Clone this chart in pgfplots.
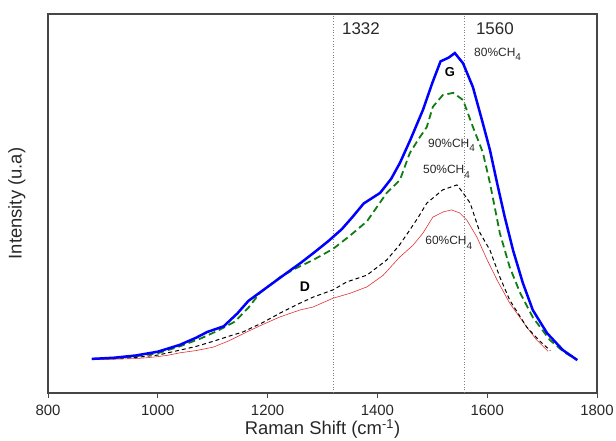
\documentclass[border=0pt]{standalone}
\usepackage{pgfplots}
\pgfplotsset{compat=1.18}
\usepackage{fontspec}
\setmainfont{Liberation Sans}

\definecolor{cblue}{RGB}{0,0,255}
\definecolor{cgreen}{RGB}{15,125,15}
\definecolor{cred}{RGB}{225,50,50}
\definecolor{frame}{RGB}{70,70,70}
\definecolor{txt}{RGB}{40,40,40}

% sample label with lowered subscript 4
\newcommand{\ch}[1]{#1\%CH\raisebox{-4.5pt}{\fontsize{10}{10}\selectfont 4}}

\begin{document}
\begin{tikzpicture}
\begin{axis}[
  name=ax,
  scale only axis,
  width=549bp, height=379bp,
  xmin=800, xmax=1800, ymin=0, ymax=100,
  xtick={800,1000,...,1800},
  ytick=\empty,
  xtick pos=bottom,
  tick align=outside,
  major tick length=5bp,
  minor tick num=0,
  axis line style={frame, line width=1.1pt},
  every tick/.style={frame, line width=1pt},
  /pgf/number format/assume math mode=true,
  /pgf/number format/set thousands separator={},
  xticklabel style={font=\fontsize{15}{15}\selectfont, text=txt, anchor=base, yshift=-17bp, inner sep=1pt},
  xlabel={Raman Shift (cm\textsuperscript{-1})},
  xlabel style={font=\fontsize{18.5}{18.5}\selectfont, text=txt, at={(axis description cs:0.5,0)}, anchor=base, yshift=-41.5bp, inner sep=1pt},
  ylabel={Intensity (u.a)},
  ylabel style={font=\fontsize{18.5}{18.5}\selectfont, text=txt, at={(axis description cs:-0.0346,0.5)}, anchor=south},
  clip=false,
]
% reference lines
\addplot[gray, dotted, line width=0.8pt] coordinates {(1320,0) (1320,100)};
\addplot[gray, dotted, line width=0.8pt] coordinates {(1558,0) (1558,100)};

% 60% CH4
\addplot[cred, line width=0.6pt] coordinates {
(880,8.8) (900,8.9) (920,8.9) (940,9.0) (960,9.1) (980,9.3) (1000,9.6) (1020,10.0)
(1040,10.6) (1070,11.2) (1101,12.1) (1130,13.8) (1162,16.1) (1190,18.0) (1223,20.1)
(1259,21.9) (1283,22.7) (1319,25.0) (1350,26.3) (1381,28.0) (1410,31.0) (1441,35.9)
(1465,39.0) (1483,42.2) (1501,46.4) (1520,47.8) (1535,48.3) (1550,47.5) (1563,45.6)
(1581,41.2) (1600,35.1) (1618,29.8) (1641,23.7) (1672,17.4) (1690,14.0) (1711,11.0)
};
% 50% CH4
\addplot[black, line width=1pt, dash pattern=on 4pt off 3pt] coordinates {
(880,9.0) (920,9.1) (960,9.4) (1000,10.0) (1040,11.3) (1070,12.3) (1100,13.6)
(1130,15.0) (1155,16.1) (1190,18.5) (1223,21.1) (1259,23.7) (1283,25.3) (1319,27.2)
(1344,29.3) (1381,31.1) (1417,35.1) (1440,39.0) (1459,43.0) (1475,46.5) (1490,50.1)
(1519,53.6) (1545,54.9) (1556,52.8) (1569,50.1) (1587,42.2) (1605,37.7) (1623,30.6)
(1641,24.5) (1672,17.4) (1695,13.8) (1715,11.2)
};
% 90% CH4
\addplot[cgreen, line width=1.8pt, dash pattern=on 7pt off 4pt] coordinates {
(880,9.0) (920,9.2) (960,9.7) (1000,10.5) (1040,12.3) (1080,14.5) (1110,16.5)
(1140,18.8) (1165,22.5) (1186,26.4) (1223,30.6) (1250,32.8) (1283,35.1) (1319,38.0)
(1350,41.5) (1381,45.3) (1417,52.8) (1441,56.2) (1459,63.3) (1475,67.0) (1490,70.2)
(1501,75.5) (1519,78.6) (1538,79.2) (1556,77.3) (1574,70.2) (1592,63.5) (1605,55.4)
(1623,42.2) (1641,33.2) (1660,26.4) (1683,20.0) (1714,14.0) (1740,10.8) (1764,8.7)
};
% 80% CH4
\addplot[cblue, line width=2.5pt] coordinates {
(880,9.0) (920,9.3) (960,9.9) (1000,10.9) (1040,12.7) (1070,14.6) (1090,16.1)
(1120,17.6) (1145,21.0) (1165,24.3) (1200,28.0) (1235,31.7) (1260,34.3) (1285,37.1)
(1310,40.0) (1335,43.2) (1355,46.5) (1375,50.0) (1405,52.8) (1425,56.5) (1441,60.7)
(1460,66.8) (1483,74.7) (1500,81.8) (1515,87.5) (1530,88.5) (1541,89.7) (1556,87.0)
(1574,80.7) (1592,71.2) (1605,64.1) (1618,55.4) (1632,46.4) (1647,37.7) (1665,29.0)
(1683,21.9) (1709,15.8) (1738,11.3) (1764,8.7)
};

% annotations
\node[font=\fontsize{17}{17}\selectfont, text=txt] at (axis cs:1370,96) {1332};
\node[font=\fontsize{17}{17}\selectfont, text=txt] at (axis cs:1614,96) {1560};
\node[font=\fontsize{12}{12}\selectfont, text=txt, anchor=west, inner sep=0pt] at (axis cs:1576,89.4) {\ch{80}};
\node[font=\fontsize{12}{12}\selectfont, text=txt, anchor=west, inner sep=0pt] at (axis cs:1492,65.4) {\ch{90}};
\node[font=\fontsize{12}{12}\selectfont, text=txt, anchor=west, inner sep=0pt] at (axis cs:1483,58.3) {\ch{50}};
\node[font=\fontsize{12}{12}\selectfont, text=txt, anchor=west, inner sep=0pt] at (axis cs:1487,39.6) {\ch{60}};
\node[font=\bfseries\fontsize{13}{13}\selectfont] at (axis cs:1532,84.7) {G};
\node[font=\bfseries\fontsize{14}{14}\selectfont] at (axis cs:1268,28) {D};
\end{axis}
\pgfresetboundingbox
\path[use as bounding box] ([shift={(-48bp,-48bp)}]ax.south west) rectangle ([shift={(19bp,14bp)}]ax.north east);
\end{tikzpicture}
\end{document}
